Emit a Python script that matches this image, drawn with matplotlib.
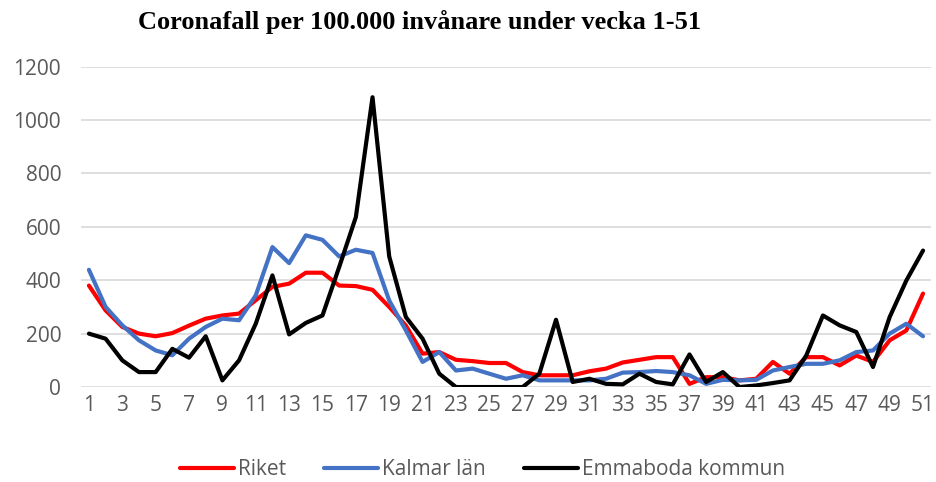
import matplotlib.pyplot as plt
import numpy as np

weeks = list(range(1, 52))

riket = [380, 287, 225, 200, 190, 202, 230, 256, 268, 275,
         325, 375, 387, 428, 428, 380, 378, 364, 300, 230,
         125, 131, 102, 97, 90, 90, 56, 44, 44, 44,
         59, 69, 92, 102, 112, 112, 12, 37, 37, 25,
         31, 94, 50, 112, 112, 81, 118, 94, 175, 212,
         350]

kalmar = [439, 300, 231, 175, 137, 119, 181, 225, 256, 250,
          343, 524, 464, 568, 551, 489, 514, 502, 324, 212,
          94, 131, 62, 69, 50, 31, 44, 25, 25, 25,
          25, 31, 54, 56, 60, 56, 44, 12, 27, 25,
          27, 62, 75, 87, 87, 100, 131, 137, 200, 237,
          190]

emmaboda = [200, 181, 100, 56, 56, 143, 110, 190, 25, 100,
            237, 418, 197, 240, 268, 449, 636, 1085, 489, 262,
            181, 50, 0, 0, 0, 0, 0, 50, 252, 19,
            31, 12, 10, 50, 19, 10, 122, 19, 56, 0,
            6, 15, 25, 118, 268, 231, 206, 75, 262, 399,
            511]

series = [("Riket", riket, "#ff0000"),
          ("Kalmar län", kalmar, "#4472c4"),
          ("Emmaboda kommun", emmaboda, "#000000")]

TEXT_GRAY = "#595959"

fig = plt.figure(figsize=(9.37, 4.82), dpi=100)
ax = fig.add_axes([0.086, 0.197, 0.908, 0.665])

for name, vals, color in series:
    ax.plot(weeks, vals, color=color, linewidth=3, label=name,
            solid_joinstyle="round", solid_capstyle="round")

ax.set_xlim(0.5, 51.5)
ax.set_ylim(0, 1200)
ax.set_yticks(np.arange(0, 1201, 200))
ax.set_xticks(weeks[::2])
ax.grid(axis="y", color="#d9d9d9", linewidth=1.2)
ax.set_axisbelow(True)
for s in ax.spines.values():
    s.set_visible(False)
ax.tick_params(length=0, labelsize=15, colors=TEXT_GRAY)
ax.tick_params(axis="y", pad=14)
ax.tick_params(axis="x", pad=6)
for lbl in ax.get_xticklabels() + ax.get_yticklabels():
    lbl.set_family("Open Sans")

fig.text(0.448, 0.955, "Coronafall per 100.000 invånare under vecka 1-51",
         ha="center", va="center", fontsize=19, fontweight="bold",
         family="Liberation Serif")

leg = fig.legend(loc="center", bbox_to_anchor=(0.515, 0.025), ncol=3,
                 frameon=False, handlelength=2.6, handletextpad=0.2,
                 columnspacing=1.8, prop={"family": "Open Sans", "size": 15})
for t in leg.get_texts():
    t.set_color(TEXT_GRAY)

fig.savefig("out.png", dpi=100)
